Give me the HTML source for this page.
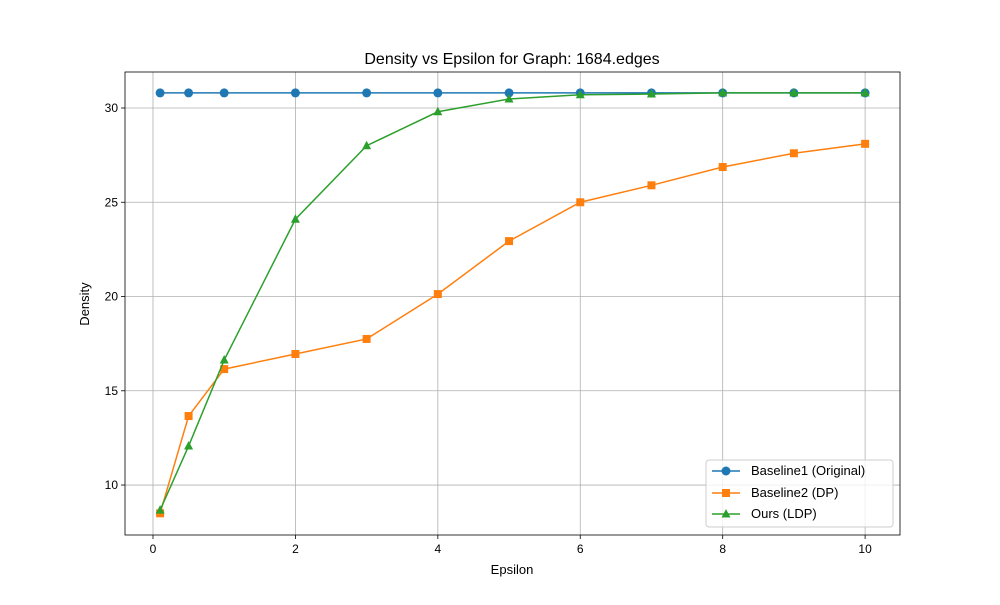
<!DOCTYPE html>
<html><head><meta charset="utf-8"><style>
body{margin:0;background:#fff;font-family:"Liberation Sans","DejaVu Sans",sans-serif}
</style></head><body>
<svg id="chart" width="1000" height="600" xmlns="http://www.w3.org/2000/svg"></svg>
<script>
const epsilons=[0.1,0.5,1,2,3,4,5,6,7,8,9,10];
const baseline1=[30.8,30.8,30.8,30.8,30.8,30.8,30.8,30.8,30.8,30.8,30.8,30.8];
const baseline2=[8.5,13.66,16.15,16.95,17.75,20.13,22.94,25.0,25.9,26.87,27.6,28.1];
const ours=[8.67,12.07,16.63,24.1,28.0,29.8,30.48,30.7,30.74,30.8,30.8,30.8];
const xTicks=[0,2,4,6,8,10];
const yTicks=[10,15,20,25,30];
const L=125,R=900,T=72,B=535;
const xMin=-0.393,xMax=10.49,yMin=7.35,yMax=31.91;
const sx=v=>L+(v-xMin)/(xMax-xMin)*(R-L);
const sy=v=>B-(v-yMin)/(yMax-yMin)*(B-T);
const svg=document.getElementById('chart');
const NS='http://www.w3.org/2000/svg';
function mk(tag,attrs,parent){const e=document.createElementNS(NS,tag);for(const k in attrs)e.setAttribute(k,attrs[k]);(parent||svg).appendChild(e);return e;}
function txt(s,attrs){const e=mk('text',attrs);e.textContent=s;return e;}
// grid
xTicks.forEach(v=>{const l=mk('line',{x1:sx(v),x2:sx(v),y1:T,y2:B,stroke:'#b0b0b0','stroke-width':0.8});

});
yTicks.forEach(v=>{const l=mk('line',{x1:L,x2:R,y1:sy(v),y2:sy(v),stroke:'#b0b0b0','stroke-width':0.8});

});
// series
function series(vals,color,marker,name){
  const g=mk('g',{});
  
  
  mk('polyline',{points:vals.map((v,i)=>sx(epsilons[i])+','+sy(v)).join(' '),fill:'none',stroke:color,'stroke-width':1.5},g);
  vals.forEach((v,i)=>{drawMarker(g,sx(epsilons[i]),sy(v),color,marker);});
}
function drawMarker(g,x,y,c,m){
  let e;
  if(m==='o')e=mk('circle',{cx:x,cy:y,r:4.5,fill:c},g);
  else if(m==='s')e=mk('rect',{x:x-4,y:y-4,width:8,height:8,fill:c},g);
  else e=mk('polygon',{points:`${x},${y-5} ${x-4.5},${y+3.5} ${x+4.5},${y+3.5}`,fill:c},g);
  
  
}
series(baseline1,'#1f77b4','o','series-baseline1');
series(baseline2,'#ff7f0e','s','series-baseline2');
series(ours,'#2ca02c','^','series-ours');
// axes frame
const fr=mk('rect',{x:L,y:T,width:R-L,height:B-T,fill:'none',stroke:'#000','stroke-width':0.8});


xTicks.forEach(v=>{mk('line',{x1:sx(v),x2:sx(v),y1:B,y2:B+4,stroke:'#000','stroke-width':0.8});
const t=txt(String(v),{x:sx(v),y:B+18,'font-size':12,'text-anchor':'middle'});

});
yTicks.forEach(v=>{mk('line',{x1:L-4,x2:L,y1:sy(v),y2:sy(v),stroke:'#000','stroke-width':0.8});
const t=txt(String(v),{x:L-7,y:sy(v)+4,'font-size':12,'text-anchor':'end'});

});
</script>
<svg width="1000" height="600" style="position:absolute;left:0;top:0" xmlns="http://www.w3.org/2000/svg">
<text x="512" y="64" font-size="16" text-anchor="middle">Density vs Epsilon for Graph: 1684.edges</text>
<text x="512" y="574" font-size="13" text-anchor="middle">Epsilon</text>
<text x="89" y="304" font-size="13" text-anchor="middle" transform="rotate(-90 89 304)">Density</text>
<g>
<rect x="706" y="460" width="187" height="67" rx="3" fill="#fff" fill-opacity="0.8" stroke="#ccc"/>
<g><line x1="712" x2="740" y1="471" y2="471" stroke="#1f77b4" stroke-width="1.5"/><circle cx="726" cy="471" r="4.5" fill="#1f77b4"/><text x="751" y="475" font-size="13">Baseline1 (Original)</text></g>
<g><line x1="712" x2="740" y1="493" y2="493" stroke="#ff7f0e" stroke-width="1.5"/><rect x="722" y="489" width="8" height="8" fill="#ff7f0e"/><text x="751" y="497" font-size="13">Baseline2 (DP)</text></g>
<g><line x1="712" x2="740" y1="514" y2="514" stroke="#2ca02c" stroke-width="1.5"/><polygon points="726,509 721.5,517.5 730.5,517.5" fill="#2ca02c"/><text x="751" y="518" font-size="13">Ours (LDP)</text></g>
</g>
</svg>
</body></html>
